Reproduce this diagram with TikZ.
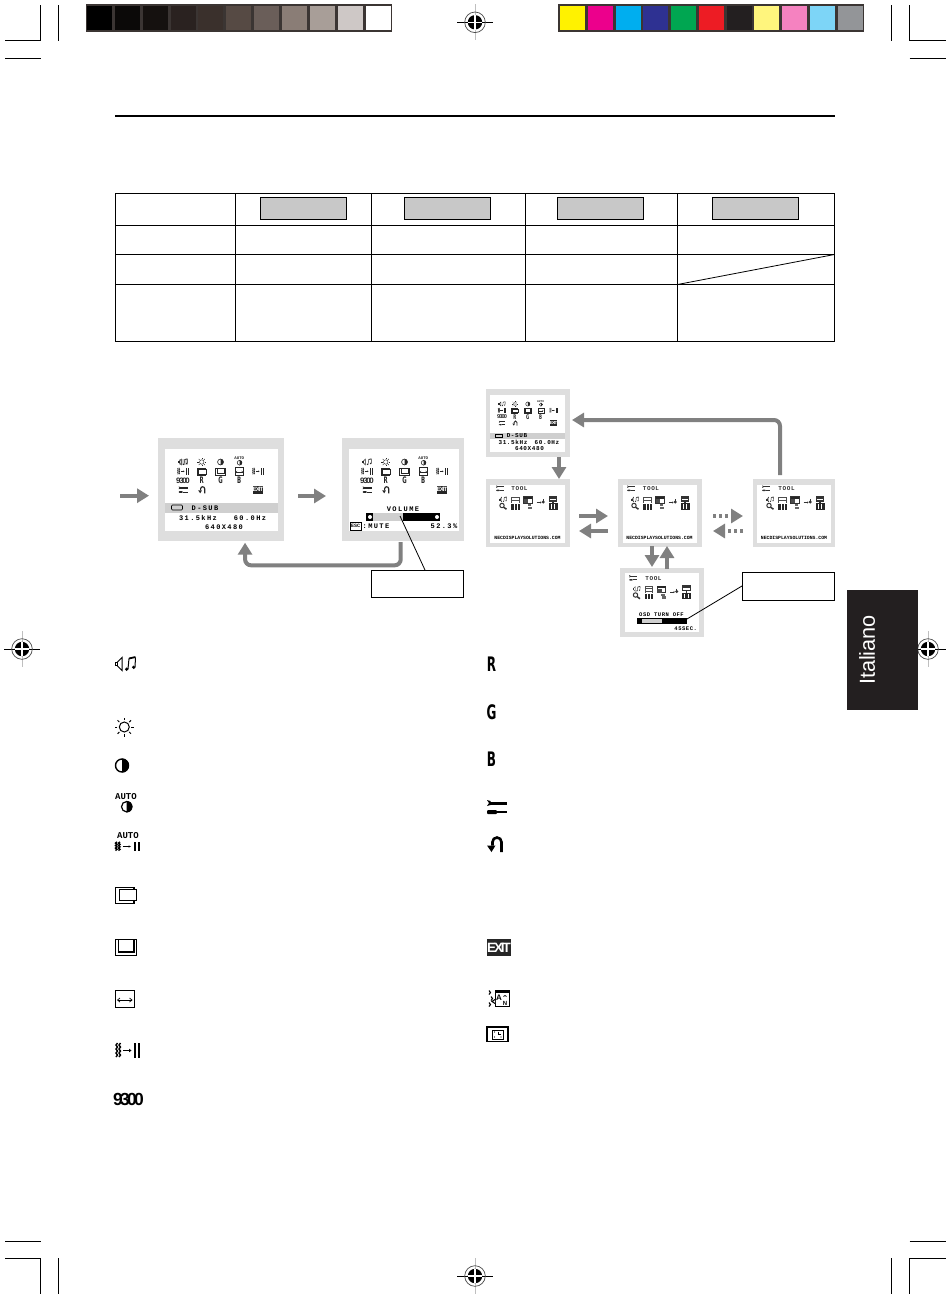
\documentclass[tikz,border=0pt]{standalone}
\usepackage{fontspec}
\setmainfont{Liberation Sans}
\newfontfamily\osdA[LetterSpace=20]{Liberation Mono}
\newfontfamily\osdB[LetterSpace=10]{Liberation Mono}
\newfontfamily\osdC{Liberation Mono}
\newfontfamily\tightf[LetterSpace=-16]{Liberation Sans}
\newfontfamily\heavyf{DejaVu Sans}
\usetikzlibrary{arrows.meta,calc}
\definecolor{stripframe}{HTML}{3B3533}
\definecolor{framegrey}{HTML}{DEDEDE}
\definecolor{bandgrey}{HTML}{CFCFCF}
\definecolor{arrowgrey}{HTML}{808080}
\definecolor{btngrey}{HTML}{C8C8C8}
\definecolor{tabblack}{HTML}{231F20}
\tikzset{
  lw/.style={line width=\icsc*#1pt},
  txt/.style={inner sep=0pt,outer sep=0pt},
  frame/.style={fill=framegrey,inner sep=0pt,outer sep=0pt,anchor=north west},
  whitescr/.style={fill=white,inner sep=0pt,outer sep=0pt,anchor=north west},
  bigarr/.style={draw=arrowgrey,line width=4pt,-{Triangle[length=12pt,width=14pt]},fill=none},
  dotarr/.style={bigarr,dash pattern=on 3pt off 3pt},
  leader/.style={draw=black,line width=0.8pt},
  labelbox/.style={draw=black,line width=0.8pt,fill=white,inner sep=0pt,outer sep=0pt,anchor=north west,minimum width=92pt,minimum height=27.5pt},
  btn/.style={draw=black,line width=0.8pt,fill=btngrey,inner sep=0pt,outer sep=0pt,anchor=north west,minimum width=86pt,minimum height=22pt}
}
% ---------- icons, in pixels round their centre ----------
\newcommand{\placeicon}[4]{\begin{scope}[shift={({#1},{#2})},scale=#3,every node/.append style={transform shape}]\def\icsc{#3}\csname ic#4\endcsname\end{scope}}
\newcommand{\icAudio}{%
  \draw[lw=1] (-10.5,-1.5) rectangle (-8.5,1.5);
  \draw[lw=1] (-8.5,-1.5)--(-3.5,-6.5)--(-3.5,6.5)--(-8.5,1.5);
  \draw[lw=1] (2.5,5)--(3.5,-5.5);
  \draw[lw=1] (9.5,3)--(10,-6.5);
  \draw[lw=1.8] (3.5,-5.5)--(10,-7);
  \fill (1.2,5.2) circle[radius=1.8];
  \fill (8.2,3.3) circle[radius=1.8];}
\newcommand{\icSun}{%
  \draw[lw=1] (0,0) circle[radius=5];
  \foreach \a in {0,45,...,315}{\draw[lw=1] (\a:7) -- (\a:9.5);}}
\newcommand{\icContrast}{%
  \draw[lw=1.4] (0,0) circle[radius=6.5];
  \fill (0,-7) arc (-90:90:7) -- cycle;}
\newcommand{\icAutoContrast}{%
  \node[txt,font=\osdC\bfseries\fontsize{9}{9}\selectfont] (autoa) at (0,-3.5) {AUTO};
  \draw[lw=1.2] (0.7,6.2) circle[radius=5.2];
  \fill (0.7,0.4) arc (-90:90:5.8) -- cycle;}
\newcommand{\icWavesBars}{%
  \foreach \q in {-10.5,-7.5}{\draw[lw=1.4] (\q,-7.5)--(\q-1.5,-5.5)--(\q,-3.5)--(\q-1.5,-1.5)--(\q,0.5)--(\q-1.5,2.5)--(\q,4.5)--(\q-1.5,6.5);}
  \draw[lw=0.8] (-5,0)--(2,0);
  \fill (3.5,0)--(1,-1.8)--(1,1.8)--cycle;
  \fill (6,-7.5) rectangle (8,7.5);
  \fill (10,-7.5) rectangle (12,7.5);}
\newcommand{\icAutoAdj}{%
  \node[txt,font=\osdC\bfseries\fontsize{9}{9}\selectfont] (autob) at (0.5,-6) {AUTO};
  \begin{scope}[shift={(0,4.5)},yscale=0.62,xscale=1]\icWavesBars\end{scope}}
\newcommand{\icHPos}{%
  \draw[lw=1.3] (-10.8,-7.2) rectangle (7.5,8.8);
  \filldraw[fill=white,lw=1.1] (-7.2,-5.2) rectangle (10.2,6.2);}
\newcommand{\icVPos}{%
  \draw[lw=1.3] (-10.8,-7.7) rectangle (10.2,8.3);
  \draw[lw=1.1] (-8.2,-7.7) rectangle (7.5,5);}
\newcommand{\icHSize}{%
  \draw[lw=1] (-9.2,-8.3) rectangle (9.8,8.3);
  \draw[lw=0.7] (-7,1)--(7.5,1);
  \draw[lw=0.7] (-4.5,-1)--(-7,1)--(-4.5,3);
  \draw[lw=0.7] (5,-1)--(7.5,1)--(5,3);}
\newcommand{\icNineThree}{%
  \node[txt,font=\tightf\bfseries\fontsize{17.5}{18}\selectfont] (nt) at (0,0) {9300};}
\newcommand{\icR}{\node[txt,font=\heavyf\bfseries\fontsize{20}{20}\selectfont] (rr) at (0,0) {\scalebox{.6}[1]{R}};}
\newcommand{\icG}{\node[txt,font=\heavyf\bfseries\fontsize{20}{20}\selectfont] (gg) at (0,0) {\scalebox{.6}[1]{G}};}
\newcommand{\icB}{\node[txt,font=\heavyf\bfseries\fontsize{20}{20}\selectfont] (bb) at (0,0) {\scalebox{.6}[1]{B}};}
\newcommand{\icTool}{%
  \fill (-10,-7.5)--(-6.5,-6.5)--(-6.5,-2.5)--(-10,-1.5)--(-8,-4.5)--cycle;
  \fill (-7,-6)--(10,-6)--(10,-3)--(-7,-3)--cycle;
  \fill[rounded corners=1pt] (-10,2.5) rectangle (0,6.5);
  \draw[lw=1.6] (0,4.5)--(10,4.5);}
\newcommand{\icReturn}{%
  \draw[lw=2.6] (6.5,7.5)--(6.5,-2.5) arc (0:-180:4.5) -- (-2.5,1);
  \fill (-8,1)--(0.5,1)--(-3.5,7.5)--cycle;}
\newcommand{\icExit}{%
  \fill[black!85] (-12,-8.5) rectangle (12,8.5);
  \node[txt,white,font=\tightf\bfseries\fontsize{13.5}{14}\selectfont] (ex) at (0,0) {EXIT};}
\newcommand{\icLang}{%
  \draw[lw=1.1] (-9,-8)--(-7.5,-6)--(-9,-4);
  \draw[lw=1.1] (-7,-2)--(-5.5,0)--(-7,2);
  \draw[lw=1.1] (-9,4)--(-7.5,6)--(-9,8);
  \draw[lw=1] (-3,-8) rectangle (11,8);
  \draw[lw=1,fill=white] (-3,1)--(-6,3)--(-3,5);
  \fill (-3,-8) rectangle (11,-5.5);
  \node[txt,font=\bfseries\fontsize{8}{8}\selectfont] (la) at (1,-1) {A};
  \node[txt,font=\bfseries\fontsize{6}{6}\selectfont] (ln) at (7,4.5) {N};
  \draw[lw=.8] (5.5,-2)--(7,-3)--(8.5,-2);}
\newcommand{\icTimer}{%
  \draw[lw=1.2] (-10.5,-7.5) rectangle (10.5,7);
  \draw[lw=1] (-5,-4.5) rectangle (5.5,4.5);
  \draw[lw=.9] (0.5,-3)--(0.5,0)--(3.5,0);
  \fill (-3,-2.5) circle[radius=.7] (-3,2.5) circle[radius=.7] (3.5,2.5) circle[radius=.7];}
% tool-page icons
\newcommand{\icTA}{%
  \begin{scope}[shift={(0,-3.5)},scale=.36]\def\icsc{.45}\icAudio\end{scope}
  \draw[lw=1] (-1,2.5) circle[radius=2.2];
  \draw[lw=1.5] (0.6,4.2)--(3.5,6.2);}
\newcommand{\icTB}{%
  \fill[black!70] (-4.2,-6.5) rectangle (4.2,0);
  \foreach \q in {-5.2,-3.6,-2,-.4}{\draw[white,lw=.6] (-3.2,\q)--(3.2,\q);}
  \fill[black!85] (-4.2,1) rectangle (4.2,6.5);
  \draw[white,lw=.7] (-1.4,1)--(-1.4,6.5) (1.4,1)--(1.4,6.5);}
\newcommand{\icTC}{%
  \draw[lw=1] (-4.2,-6.5) rectangle (4.2,0);
  \fill[black!85] (-4.2,-6.5) rectangle (4.2,-4.5);
  \fill[black!70] (-4.2,-3.8) rectangle (0,0);
  \fill[black!60] (-.5,1) rectangle (3,3);
  \fill[black!60] (0,3.8) rectangle (4,6);}
\newcommand{\icTD}{%
  \draw[lw=.9] (-4,-.5)--(0,-.5);
  \fill (1,-.5)--(-.5,-1.6)--(-.5,.6)--cycle;
  \fill (2.8,-1) circle[radius=1.6];
  \draw[lw=.8] (2.8,-4)--(2.8,-2);}
\newcommand{\icTE}{%
  \draw[lw=1.1] (-3.6,-6.5) rectangle (3.6,-2);
  \fill[black!80] (-3.6,-6.5) rectangle (3.6,-4.5);
  \draw[lw=1.2] (0,-2)--(0,0);
  \fill[black!85] (-4.5,0) rectangle (4.5,6.5);
  \draw[white,lw=.6] (-1.8,1)--(-1.8,5.5) (1.5,1)--(1.5,5.5);}
% ---------- screen contents ----------
\newcommand{\menugrid}[5]{%
  \begin{scope}[black!85]
  \foreach \c/\r/\n in {0/0/Audio,1/0/Sun,2/0/Contrast,3/-.22/AutoContrast,0/1/WavesBars,1/1/HPos,2/1/VPos,3/1/HSize,4/1/WavesBars,0/2/NineThree,1/2/R,2/2/G,3/2/B,0/3/Tool,1/3/Return,4/3/Exit}{%
    \placeicon{#1+\c*#2}{#3+\r*#4}{#5}{\n}}
  \end{scope}}
% #1 prefix, #2 tool icon x, #3 TOOL text x, #4 first icon x, #5 icon row y
\newcommand{\toolrow}[5]{%
  \begin{scope}[black!80]
  \placeicon{#2}{#5-14.5}{.4}{Tool}
  \node[txt,font=\osdB\bfseries\fontsize{6}{6}\selectfont] (#1tooltxt) at (#3,{#5-14}) {TOOL};
  \foreach \q/\n in {0/TA,12.5/TB,25/TC,37.5/TD,50/TE}{\placeicon{#4+\q}{#5}{1}{\n}}
  \end{scope}}
\newcommand{\regmark}[2]{%
  \draw[black!25,line width=.9pt] ({#1},{#2-18}) -- ({#1},{#2+18});
  \draw[black,line width=.7pt] ({#1-18},{#2}) -- ({#1+18},{#2});
  \draw[black!70,line width=.7pt] ({#1},{#2}) circle[radius=10.3];
  \fill[black] ({#1},{#2}) circle[radius=7.2];
  \draw[white,line width=1.2pt] ({#1-7.2},{#2}) -- ({#1+7.2},{#2});
  \draw[white,line width=1.2pt] ({#1},{#2-7.2}) -- ({#1},{#2+7.2});}
\begin{document}
\begin{tikzpicture}[x=1pt,y=-1pt]
\useasboundingbox (0,0) rectangle (950,1299);
\fill[white] (0,0) rectangle (950,1299);
% ---------- colour strips ----------
\fill[stripframe] (85.5,3.5) rectangle (392,32);
\foreach \i/\col in {0/000000,1/0B0908,2/15110F,3/2A2220,4/3A302C,5/564A44,6/6A5E59,7/8A7D76,8/A89E98,9/CEC8C6,10/FFFFFF}{
  \definecolor{sw}{HTML}{\col}
  \fill[sw] ({87+\i*27.85},5.5) rectangle ({112+\i*27.85},30);}
\fill[stripframe] (558,3.5) rectangle (864,32);
\foreach \i/\col in {0/FFF200,1/EC008C,2/00AEEF,3/2E3192,4/00A651,5/ED1C24,6/231F20,7/FFF57D,8/F582C0,9/7DD5F7,10/939598}{
  \definecolor{sw}{HTML}{\col}
  \fill[sw] ({560+\i*27.75},5.5) rectangle ({585+\i*27.75},30);}
% ---------- crop marks ----------
\begin{scope}[black,line width=.7pt]
\draw (5,40.7) -- (40.6,40.7) -- (40.6,5);
\draw (5,58) -- (40.6,58);
\draw (58,5) -- (58,40.7);
\draw (945.5,40.7) -- (909.7,40.7) -- (909.7,5);
\draw (909.7,58) -- (945.5,58);
\draw (891.5,5) -- (891.5,40.7);
\draw (5,1241) -- (40.6,1241);
\draw (5,1258.3) -- (40.6,1258.3) -- (40.6,1294);
\draw (58,1258.3) -- (58,1294);
\draw (909.7,1241) -- (945.5,1241);
\draw (945.5,1258.3) -- (909.7,1258.3) -- (909.7,1294);
\draw (891.5,1258.3) -- (891.5,1294);
\end{scope}
\regmark{475}{22.3}
\regmark{475}{1276}
\regmark{22}{649}
\regmark{928}{649}
% ---------- heading rule ----------
\draw[black,line width=2pt] (115,116) -- (835,116);
% ---------- table ----------
\begin{scope}[black,line width=.8pt]
\draw (115.5,193.5) rectangle (834.5,341.5);
\draw (115.5,225.5) -- (834.5,225.5);
\draw (115.5,254.5) -- (834.5,254.5);
\draw (115.5,284.5) -- (834.5,284.5);
\foreach \q in {235.5,371.5,525.5,677.5}{\draw (\q,193.5) -- (\q,341.5);}
\draw (677.5,284.5) -- (834.5,254.5);
\end{scope}
\node[btn] (b1) at (260,197) {};
\node[btn] (b2) at (404,197) {};
\node[btn] (b3) at (557,197) {};
\node[btn] (b4) at (712,197) {};
% ---------- left screens ----------
\node[frame,minimum width=125.7pt,minimum height=103pt] (s1) at (158,438) {};
\node[whitescr,minimum width=113pt,minimum height=82pt] (s1w) at (165,448.7) {};
\fill[bandgrey] (165,503) rectangle (278,513);
\fill[bandgrey] (179,459) rectangle (188,465);
\menugrid{183}{18.75}{462}{9.3}{.45}
\draw[black,line width=.6pt,rounded corners=1pt] (171.5,505) rectangle (182.5,510);
\node[txt,font=\osdA\bfseries\fontsize{7}{7}\selectfont] (s1a) at (205,508) {D-SUB};
\node[txt,font=\osdA\bfseries\fontsize{7}{7}\selectfont] (s1b) at (198,518) {31.5kHz};
\node[txt,font=\osdA\bfseries\fontsize{7}{7}\selectfont] (s1c) at (250,518) {60.0Hz};
\node[txt,font=\osdA\bfseries\fontsize{7}{7}\selectfont] (s1d) at (224,527) {640X480};

\node[frame,minimum width=122pt,minimum height=103pt] (s2) at (342,438) {};
\node[whitescr,minimum width=110pt,minimum height=82pt] (s2w) at (348.7,448.7) {};
\menugrid{367}{18.75}{462}{9.3}{.45}
\node[txt,font=\osdA\bfseries\fontsize{7}{7}\selectfont] (s2a) at (403,509) {VOLUME};
\fill[black] (366,513) rectangle (440,521);
\fill[bandgrey] (373,513) rectangle (403,521);
\fill[white] (370,517) circle[radius=2] (437,517) circle[radius=2];
\node[txt,draw=black,line width=.5pt,minimum width=11pt,minimum height=8pt,font=\osdC\bfseries\fontsize{5}{5}\selectfont] (s2b) at (355.5,526) {ESC};
\node[txt,font=\osdA\bfseries\fontsize{7}{7}\selectfont] (s2c) at (376,526) {:MUTE};
\node[txt,font=\osdA\bfseries\fontsize{7}{7}\selectfont] (s2d) at (444,526) {52.3\%};
\node[labelbox] (lb1) at (371,570) {};
\coordinate (in1) at (120,495.7);
\coordinate (v1) at (400,516);
\draw[bigarr] (in1) -- ($(s1.west)+(-9,6.2)$);
\draw[bigarr] ($(s1.east)+(14.3,6.5)$) -- ($(s2.west)+(-16,6.5)$);
\draw[bigarr,rounded corners=6pt] ($(s2.south)+(-2.3,1)$) -- ++(0,23.3) -| ($(s1.south)+(24.2,1.7)$);
\draw[leader] ($(lb1.north)+(8,0)$) -- (v1);
% ---------- right screens ----------
\node[frame,minimum width=84pt,minimum height=68pt] (t) at (486,389) {};
\node[whitescr,minimum width=75pt,minimum height=57pt] (tw) at (490,395) {};
\fill[bandgrey] (490,433) rectangle (565,439);
\menugrid{502}{12.9}{404}{6.4}{.32}
\draw[black,line width=.5pt] (495,434.5) rectangle (502,437.5);
\node[txt,font=\osdB\bfseries\fontsize{6}{6}\selectfont] (ta) at (517,436) {D-SUB};
\node[txt,font=\osdB\bfseries\fontsize{6}{6}\selectfont] (tb) at (513,442.5) {31.5kHz};
\node[txt,font=\osdB\bfseries\fontsize{6}{6}\selectfont] (tc) at (547,442.5) {60.0Hz};
\node[txt,font=\osdB\bfseries\fontsize{6}{6}\selectfont] (td) at (529.5,449) {640X480};

\node[frame,minimum width=84pt,minimum height=68pt] (a) at (486,479) {};
\node[whitescr,minimum width=75pt,minimum height=58pt] (aw) at (490,485) {};
\toolrow{a}{500}{519.5}{503}{503}
\node[txt,font=\osdC\bfseries\fontsize{4.8}{5}\selectfont] (aurl) at (527.5,538) {NECDISPLAYSOLUTIONS.COM};

\node[frame,minimum width=84pt,minimum height=68pt] (b) at (618,479) {};
\node[whitescr,minimum width=74pt,minimum height=58pt] (bw) at (623,485) {};
\toolrow{b}{631}{651}{635}{503}
\node[txt,font=\osdC\bfseries\fontsize{4.8}{5}\selectfont] (burl) at (659.5,538) {NECDISPLAYSOLUTIONS.COM};

\node[frame,minimum width=82pt,minimum height=68pt] (c) at (753,479) {};
\node[whitescr,minimum width=74pt,minimum height=58pt] (cw) at (757,485) {};
\toolrow{c}{766}{786.5}{770}{503}
\node[txt,font=\osdC\bfseries\fontsize{4.8}{5}\selectfont] (curl) at (794,538) {NECDISPLAYSOLUTIONS.COM};

\node[frame,minimum width=84pt,minimum height=69pt] (d) at (620,568) {};
\node[whitescr,minimum width=74pt,minimum height=59pt] (dw) at (625,573) {};
\toolrow{d}{633}{653.5}{636.5}{592.5}
\node[txt,font=\osdB\bfseries\fontsize{5.5}{6}\selectfont] (da) at (661.5,615) {OSD TURN OFF};
\fill[black] (637,618) rectangle (687,624);
\fill[bandgrey] (642,618.7) rectangle (662,623.3);
\node[txt,anchor=east,font=\osdB\bfseries\fontsize{5.5}{6}\selectfont] (db) at (697,628.5) {45SEC.};
\node[labelbox,minimum height=28pt] (lb2) at (742,572) {};
\coordinate (v2) at (687,619);
\draw[bigarr] ($(t.south)+(31,0)$) -- ($(a.north)+(31,0)$);
\draw[bigarr,rounded corners=6pt] ($(c.north)+(-14,-4)$) |- ($(t.east)+(2,-3)$);
\draw[bigarr] ($(a.east)+(9,3)$) -- ($(b.west)+(-10,3)$);
\draw[bigarr] ($(b.west)+(-10,18)$) -- ($(a.east)+(9,18)$);
\draw[dotarr] ($(b.east)+(11,3)$) -- ($(c.west)+(-10,3)$);
\draw[dotarr] ($(c.west)+(-10,18)$) -- ($(b.east)+(11,18)$);
\draw[bigarr] ($(b.south)+(-8,-1)$) -- ($(d.north)+(-10,-1)$);
\draw[bigarr] ($(d.north)+(5,1)$) -- ($(b.south)+(7,-1)$);
\draw[leader] (lb2.west) -- (v2);
% ---------- language tab ----------
\node[fill=tabblack,inner sep=0pt,outer sep=0pt,minimum width=71pt,minimum height=120pt,anchor=north west] (tab) at (847,590) {};
\node[txt,white,rotate=90,font=\fontsize{21.7}{22}\selectfont] (tabt) at (867,650) {Italiano};
% ---------- icon column, left ----------
\placeicon{125.5}{664}{1}{Audio}
\placeicon{124.3}{727}{1}{Sun}
\placeicon{122}{765.5}{1}{Contrast}
\placeicon{126}{800.5}{1}{AutoContrast}
\placeicon{127.5}{842}{1}{AutoAdj}
\placeicon{126.5}{894.5}{1}{HPos}
\placeicon{126.5}{947}{1}{VPos}
\placeicon{124.5}{999}{1}{HSize}
\placeicon{128}{1050.5}{1}{WavesBars}
\placeicon{128.5}{1099.5}{1}{NineThree}
% ---------- icon column, right ----------
\placeicon{491.5}{664.5}{1}{R}
\placeicon{491.5}{712}{1}{G}
\placeicon{491.5}{759}{1}{B}
\placeicon{497}{807.5}{1}{Tool}
\placeicon{495}{844.5}{1}{Return}
\placeicon{499}{947.5}{1}{Exit}
\placeicon{498}{998.5}{1}{Lang}
\placeicon{497.5}{1034.5}{1}{Timer}
\end{tikzpicture}
\end{document}
